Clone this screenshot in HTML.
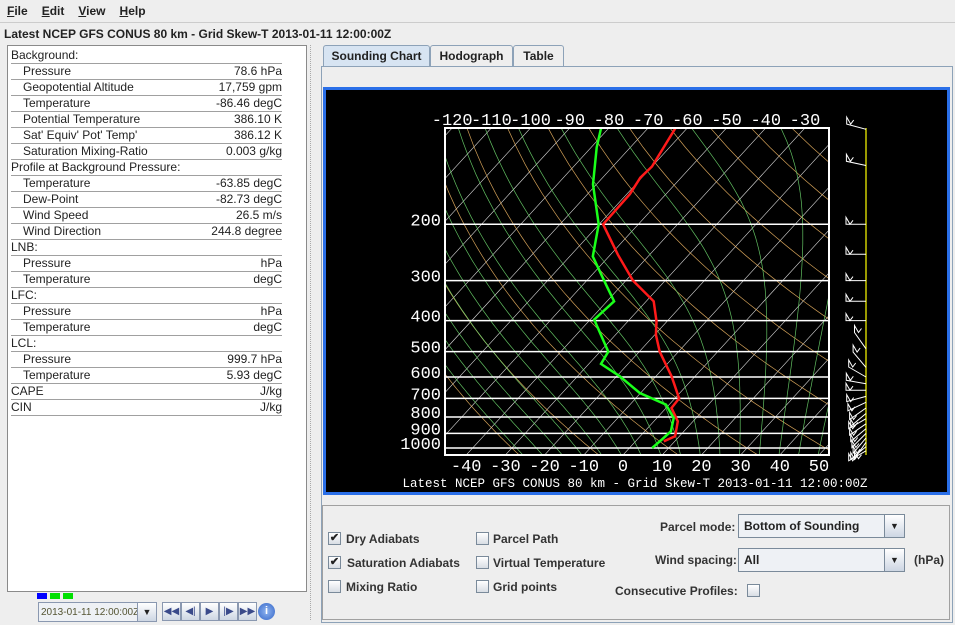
<!DOCTYPE html>
<html><head><meta charset="utf-8">
<style>
*{box-sizing:border-box}
body{margin:0;width:955px;height:625px;overflow:hidden;background:#eeeeee;font-family:"Liberation Sans",sans-serif;font-size:12px;color:#222;position:relative}
.abs{position:absolute}
.menu span{margin-right:14px}
.row{position:absolute;left:3px;width:271px;height:16px;border-bottom:1px solid #a0a0a0;line-height:15px}
.row .l{position:absolute;left:0}
.row .l.s{left:12px}
.row .v{position:absolute;right:0}
.tab{position:absolute;top:45px;height:21px;border:1px solid #8da2b8;border-bottom:none;background:#eeeeee;font-weight:bold;text-align:center;line-height:20px;border-radius:3px 3px 0 0}
.cb{position:absolute;width:13px;height:13px;border:1px solid #7a8a9a;background:linear-gradient(#fff,#d8dde4);font-size:11px;line-height:11px;text-align:center;font-weight:bold}
.lbl{position:absolute;font-weight:bold;font-size:12px;color:#333}
.btn{position:absolute;top:602px;width:19px;height:19px;border:1px solid #8a98b0;background:linear-gradient(#fff,#cdd6e3);color:#3a4a8a;font-size:10px;text-align:center;line-height:17px}
</style></head><body>
<div class="abs menu" style="left:0;top:0;width:955px;height:23px;background:#eeeeee;border-bottom:1px solid #ccc;padding:4px 0 0 7px;font-weight:bold">
<span><u>F</u>ile</span><span><u>E</u>dit</span><span><u>V</u>iew</span><span><u>H</u>elp</span></div>
<div class="abs" style="left:4px;top:27px;font-weight:bold">Latest NCEP GFS CONUS 80 km - Grid Skew-T 2013-01-11 12:00:00Z</div>

<div class="abs" style="left:7px;top:45px;width:300px;height:547px;background:#fff;border:1px solid #8a8a8a">
<div id="rows"></div></div>
<div class="abs" style="left:310px;top:45px;width:8px;height:575px;border-left:1px dotted #aaa"></div>

<div class="tab" style="left:323px;width:107px;background:#d7e4f2">Sounding Chart</div>
<div class="tab" style="left:430px;width:83px">Hodograph</div>
<div class="tab" style="left:513px;width:51px">Table</div>
<div class="abs" style="left:321px;top:66px;width:632px;height:557px;border:1px solid #8da2b8"></div>
<div class="abs" style="left:323px;top:87px;width:627px;height:408px;border:3px solid #2a6fe8;background:#000"></div>

<div class="abs" style="left:322px;top:505px;width:628px;height:115px;border:1px solid #a0a0a0"></div>
<div class="cb" style="left:328px;top:532px">✔</div><div class="lbl" style="left:346px;top:532px">Dry Adiabats</div>
<div class="cb" style="left:328px;top:556px">✔</div><div class="lbl" style="left:347px;top:556px">Saturation Adiabats</div>
<div class="cb" style="left:328px;top:580px"></div><div class="lbl" style="left:346px;top:580px">Mixing Ratio</div>
<div class="cb" style="left:476px;top:532px"></div><div class="lbl" style="left:493px;top:532px">Parcel Path</div>
<div class="cb" style="left:476px;top:556px"></div><div class="lbl" style="left:493px;top:556px">Virtual Temperature</div>
<div class="cb" style="left:476px;top:580px"></div><div class="lbl" style="left:493px;top:580px">Grid points</div>
<div class="lbl" style="left:660px;top:520px">Parcel mode:</div>
<div class="abs" style="left:738px;top:514px;width:167px;height:24px;border:1px solid #7a8a9a;background:#eef1f5;font-weight:bold;padding:4px 0 0 5px">Bottom of Sounding<div style="position:absolute;right:0;top:0;width:20px;height:22px;border-left:1px solid #7a8a9a;background:linear-gradient(#fff,#cdd6e3);text-align:center;font-size:9px;line-height:22px">▼</div></div>
<div class="lbl" style="left:655px;top:553px">Wind spacing:</div>
<div class="abs" style="left:738px;top:548px;width:167px;height:24px;border:1px solid #7a8a9a;background:#eef1f5;font-weight:bold;padding:4px 0 0 5px">All<div style="position:absolute;right:0;top:0;width:20px;height:22px;border-left:1px solid #7a8a9a;background:linear-gradient(#fff,#cdd6e3);text-align:center;font-size:9px;line-height:22px">▼</div></div>
<div class="lbl" style="left:914px;top:553px">(hPa)</div>
<div class="lbl" style="left:615px;top:584px">Consecutive Profiles:</div>
<div class="cb" style="left:747px;top:584px"></div>

<div class="abs" style="left:37px;top:593px;width:10px;height:6px;background:#0000ff"></div>
<div class="abs" style="left:50px;top:593px;width:10px;height:6px;background:#00e000"></div>
<div class="abs" style="left:63px;top:593px;width:10px;height:6px;background:#00e000"></div>
<div class="abs" style="left:38px;top:602px;width:119px;height:20px;border:1px solid #8a98b0;background:#eef1f5;font-size:10px;padding:4px 0 0 2px;color:#553;white-space:nowrap">2013-01-11 12:00:00Z<div style="position:absolute;right:0;top:0;width:19px;height:18px;border-left:1px solid #8a98b0;background:linear-gradient(#fff,#cdd6e3);text-align:center;font-size:9px;line-height:18px;color:#222">▼</div></div>
<div class="btn" style="left:162px">◀◀</div>
<div class="btn" style="left:181px">◀|</div>
<div class="btn" style="left:200px">▶</div>
<div class="btn" style="left:219px">|▶</div>
<div class="btn" style="left:238px">▶▶</div>
<div class="abs" style="left:258px;top:603px;width:17px;height:17px;border-radius:50%;background:radial-gradient(#8fb4f0,#3466c8);color:#fff;font-size:11px;text-align:center;line-height:17px;font-weight:bold">i</div>

<svg id="chart" class="abs" style="left:0;top:0" width="955" height="625"></svg>

<script>
// ---- data ----
const tempP = [100,132,143,161,200,249,300,348,402,443,500,597,700,750,825,919,953];
const tempT = [-63,-60,-60.4,-59.2,-59,-48.1,-38.2,-28.1,-22.7,-19.7,-14.8,-6,1.1,1.4,6.1,8.9,7.2];
const dewP = [100,115,150,200,252,309,348,397,500,546,597,673,732,806,887,942,1000];
const dewT = [-82,-78.6,-70.9,-60.1,-54.1,-44.1,-38.2,-39,-27.9,-26.9,-19.2,-10.2,-0.8,4.3,6.7,6.3,5.8];
const pressureTicks = [200,300,400,500,600,700,800,900,1000];
const topTicks = [-120,-110,-100,-90,-80,-70,-60,-50,-40,-30];
const bottomTicks = [-40,-30,-20,-10,0,10,20,30,40,50];
const windP = [101,131,200,248,300,348,400,490,560,600,630,660,690,720,750,780,810,840,870,900,930,960,990,1020];
const windDir = [-15,-12,0,0,0,0,0,-55,-50,-30,-10,0,15,25,35,40,30,35,40,45,50,55,40,30];
const infoLabels = ["Background:","Pressure","Geopotential Altitude","Temperature","Potential Temperature","Sat' Equiv' Pot' Temp'","Saturation Mixing-Ratio","Profile at Background Pressure:","Temperature","Dew-Point","Wind Speed","Wind Direction","LNB:","Pressure","Temperature","LFC:","Pressure","Temperature","LCL:","Pressure","Temperature","CAPE","CIN"];
const infoValues = ["","78.6 hPa","17,759 gpm","-86.46 degC","386.10 K","386.12 K","0.003 g/kg","","-63.85 degC","-82.73 degC","26.5 m/s","244.8 degree","","hPa","degC","","hPa","degC","","999.7 hPa","5.93 degC","J/kg","J/kg"];

// info table
const rows=document.getElementById('rows');
infoLabels.forEach((t,i)=>{
  const r=document.createElement('div');
  
  
  r.className='row';r.style.top=(2+i*16)+'px';
  const sub=!(t.endsWith(':')||t==='CAPE'||t==='CIN');
  r.innerHTML='<span class="l'+(sub?' s':'')+'">'+t+'</span><span class="v">'+infoValues[i]+'</span>';
  rows.appendChild(r);
});

// ---- chart ----
const NS='http://www.w3.org/2000/svg', svg=document.getElementById('chart');
const X0=445,X1=829,Y0=128,Y1=455;
const yP=p=>448-139*Math.log(1000/p);
const xT=(T,p)=>623+3.92*T+0.916*(Y1-yP(p));
function el(tag,a,parent){const e=document.createElementNS(NS,tag);for(const k in a)e.setAttribute(k,a[k]);(parent||svg).appendChild(e);return e;}
const defs=el('defs',{});const cp=el('clipPath',{id:'pc'},defs);el('rect',{x:X0,y:Y0,width:X1-X0,height:Y1-Y0},cp);
const g=el('g',{'clip-path':'url(#pc)'});
function poly(pts,stroke,w,name,op){const e=el('polyline',{points:pts.map(q=>q[0].toFixed(1)+','+q[1].toFixed(1)).join(' '),fill:'none',stroke:stroke,'stroke-width':w,opacity:op||1},g);return e;}
// isotherms
for(let T=-170;T<=50;T+=10){poly([[xT(T,1060),yP(1060)],[xT(T,95),yP(95)]],'#ffffff',0.6,'isotherm',0.85);}
// dry adiabats
for(let th=-30;th<=230;th+=20){const pts=[];for(let p=1060;p>=95;p-=15){const T=(th+273.15)*Math.pow(p/1000,0.286)-273.15;pts.push([xT(T,p),yP(p)]);}poly(pts,'#e8b060',0.7,'dry-adiabat',0.9);}
// moist adiabats
for(let T0=-25;T0<=50;T0+=5){let T=T0+273.15;const pts=[];
 for(let p=1060;p>=95;p-=2){if(p%10===0||p===1060)pts.push([xT(T-273.15,p),yP(p)]);
  const Tc=T-273.15,es=6.112*Math.exp(17.67*Tc/(Tc+243.5)),rs=0.622*es/(p-es);
  const d=(287*T+2.5e6*rs)/(p*(1005+2.5e6*2.5e6*rs*0.622/(287*T*T)));T-=2*d;}
 poly(pts,'#6cd46c',0.7,'saturation-adiabat',0.9);}
// pressure lines
pressureTicks.forEach(p=>{const e=el('line',{x1:X0,x2:X1,y1:yP(p),y2:yP(p),stroke:'#fff','stroke-width':1.5},g);
 });
// profiles
poly(tempP.map((p,i)=>[xT(tempT[i],p),yP(p)]),'#ff1a1a',2.5,'temperature-line');
poly(dewP.map((p,i)=>[xT(dewT[i],p),yP(p)]),'#1aff1a',2.5,'dewpoint-line');
// frame
const fr=el('rect',{x:X0,y:Y0,width:X1-X0,height:Y1-Y0,fill:'none',stroke:'#fff','stroke-width':2});

const tf='font-family:"Liberation Mono",monospace;font-size:17px;fill:#fff';
pressureTicks.forEach(p=>{const t=el('text',{x:441,y:yP(p)+1,'text-anchor':'end',style:tf});t.textContent=p;
 });
topTicks.forEach(T=>{const t=el('text',{x:xT(T,100),y:125,'text-anchor':'middle',style:tf});t.textContent=T;
 });
bottomTicks.forEach(T=>{const t=el('text',{x:623+3.92*T,y:471,'text-anchor':'middle',style:tf});t.textContent=T;
 });
const ti=el('text',{x:635,y:487,'text-anchor':'middle',style:'font-family:"Liberation Mono",monospace;font-size:12.5px;fill:#fff'});
ti.textContent='Latest NCEP GFS CONUS 80 km - Grid Skew-T 2013-01-11 12:00:00Z';

// wind barbs
const staff=el('line',{x1:866,x2:866,y1:Y0,y2:Y1,stroke:'#ffff00','stroke-width':1.2});

windP.forEach((p,i)=>{const a=windDir[i]*Math.PI/180,y=yP(p),x2=866-20*Math.cos(a),y2=y+20*Math.sin(a);
 const b=el('polyline',{points:`866,${y.toFixed(1)} ${x2.toFixed(1)},${y2.toFixed(1)} ${(x2).toFixed(1)},${(y2-7).toFixed(1)} ${(x2+4).toFixed(1)},${y2.toFixed(1)} ${(x2+7).toFixed(1)},${(y2-4).toFixed(1)}`,fill:'none',stroke:'#fff','stroke-width':1});
 });
</script>
</body></html>
